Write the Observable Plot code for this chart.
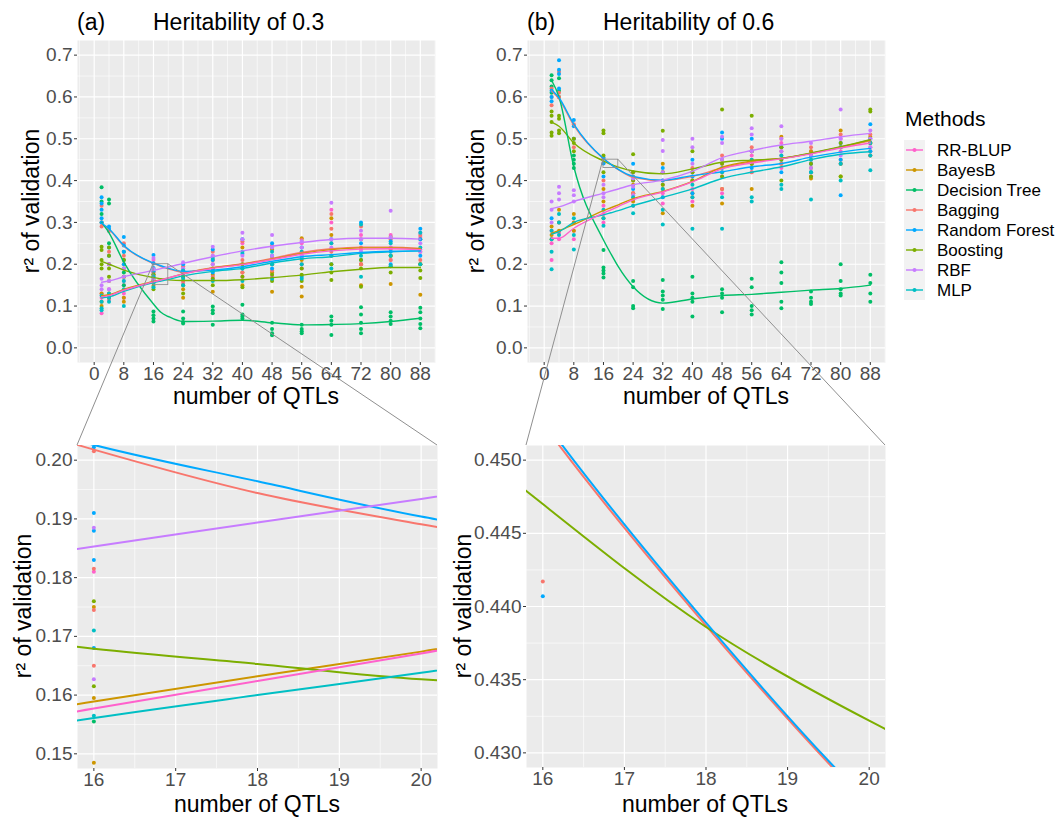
<!DOCTYPE html>
<html><head><meta charset="utf-8">
<script src="https://cdn.jsdelivr.net/npm/d3@7"></script>
<script src="https://cdn.jsdelivr.net/npm/@observablehq/plot@0.6"></script>
<style>
body{margin:0;background:#fff;}
#root{position:relative;width:1063px;height:817px;overflow:hidden;background:#fff;}
</style></head><body><div id="root"></div>
<script>
// ---------- categories & colours ----------
const methods = ["RR-BLUP","BayesB","Decision Tree","Bagging","Random Forest","Boosting","RBF","MLP"];
const colors  = ["#FF61CC","#CD9600","#00BE67","#F8766D","#00A9FF","#7CAE00","#C77CFF","#00BFC4"];
const drawOrder = ["Bagging","BayesB","Boosting","Decision Tree","MLP","Random Forest","RBF","RR-BLUP"];

// ---------- x positions ----------
const ptX = [2,4,8,16,24,32,40,48,56,64,72,80,88];
const smX = [2,4,8,16,18,20,24,32,40,48,56,64,72,80,88];

// ---------- tick labels ----------
const topXTicks = [0,8,16,24,32,40,48,56,64,72,80,88];
const topYTicks = [0,0.1,0.2,0.3,0.4,0.5,0.6,0.7];
const zoomXTicks = [16,17,18,19,20];
const zoomAYTicks = [0.15,0.16,0.17,0.18,0.19,0.20];
const zoomBYTicks = [0.430,0.435,0.440,0.445,0.450];

// ---------- zoom windows ----------
const zoomA_x = [16,20], zoomA_y = [0.15,0.20];
const zoomB_x = [16,20], zoomB_y = [0.43,0.45];

// ---------- panel (a) replicate points, per method, per ptX column ----------
const ptsA_RRBLUP = [[0.13,0.12,0.083],[0.14,0.12,0.115],[0.15,0.13,0.12],[0.21,0.181],[0.19,0.17,0.155],[0.22,0.19,0.165],[0.25,0.2,0.17],[0.24,0.2,0.17],[0.25,0.22,0.19],[0.33,0.3,0.25],[0.27,0.235,0.2],[0.27,0.24,0.21],[0.265,0.235,0.2]];
const ptsA_BayesB = [[0.13,0.11,0.1],[0.16,0.13,0.12],[0.17,0.12,0.11],[0.175,0.1595,0.1485],[0.18,0.14,0.12],[0.21,0.175,0.134],[0.24,0.18,0.15],[0.235,0.18,0.134],[0.262,0.21,0.146,0.123],[0.31,0.27,0.22],[0.26,0.2,0.15],[0.265,0.22,0.153],[0.26,0.2,0.127]];
const ptsA_DT = [[0.384,0.35,0.32,0.3],[0.355,0.345,0.28,0.25,0.2],[0.23,0.21,0.18,0.15],[0.1555,0.087,0.078,0.07,0.063],[0.087,0.07,0.062,0.058],[0.099,0.09,0.083,0.055],[0.103,0.08,0.075,0.07],[0.06,0.045,0.035,0.03],[0.055,0.045,0.04,0.035],[0.075,0.065,0.055,0.031],[0.097,0.08,0.06,0.045,0.035],[0.085,0.075,0.065,0.057],[0.096,0.085,0.07,0.057,0.047]];
const ptsA_Bagging = [[0.34,0.3,0.29],[0.28,0.23,0.2],[0.25,0.22,0.2],[0.2015,0.1815,0.1745,0.165],[0.195,0.175,0.16],[0.23,0.2,0.17],[0.255,0.21,0.18],[0.245,0.215,0.185],[0.258,0.23,0.2],[0.32,0.285,0.23],[0.29,0.24,0.2],[0.26,0.235,0.21],[0.27,0.23,0.21]];
const ptsA_RF = [[0.36,0.345,0.33,0.31,0.3],[0.29,0.285,0.24,0.22],[0.265,0.245,0.23,0.2],[0.222,0.2022,0.191,0.188,0.183,0.168],[0.2,0.185,0.17],[0.235,0.21,0.18],[0.26,0.225,0.19],[0.25,0.22,0.19],[0.24,0.215,0.17],[0.26,0.235,0.2],[0.3,0.25,0.21],[0.255,0.23,0.2],[0.285,0.26,0.22]];
const ptsA_Boosting = [[0.242,0.234,0.21,0.2,0.19],[0.24,0.22,0.19,0.17],[0.21,0.19,0.17],[0.176,0.1615,0.14],[0.17,0.15,0.13],[0.19,0.165,0.15],[0.2,0.17,0.145],[0.2,0.175,0.16],[0.19,0.175,0.16],[0.2,0.18,0.162],[0.21,0.19,0.146],[0.22,0.195,0.18],[0.2,0.185,0.167]];
const ptsA_RBF = [[0.165,0.15,0.14],[0.2,0.16,0.14],[0.19,0.17,0.16],[0.215,0.1885,0.1627],[0.205,0.19,0.18],[0.242,0.22,0.2],[0.275,0.26,0.22],[0.27,0.24,0.22],[0.255,0.24,0.22],[0.347,0.26,0.24],[0.28,0.26,0.23],[0.328,0.265,0.24],[0.275,0.25,0.23]];
const ptsA_MLP = [[0.125,0.11,0.095,0.09],[0.13,0.12,0.11],[0.16,0.14,0.1],[0.171,0.1565,0.145],[0.185,0.165,0.15],[0.215,0.185,0.16],[0.23,0.19,0.16],[0.23,0.2,0.165],[0.23,0.2,0.165],[0.25,0.22,0.19],[0.295,0.22,0.17],[0.25,0.22,0.195],[0.275,0.24,0.2]];

// ---------- panel (b) replicate points ----------
const ptsB_RRBLUP = [[0.28,0.25,0.21],[0.3,0.275,0.26],[0.3,0.28,0.26],[0.34,0.32,0.3],[0.37,0.355,0.34],[0.4,0.37,0.345],[0.41,0.38,0.35],[0.44,0.41,0.37],[0.46,0.44,0.42],[0.49,0.46,0.43],[0.47,0.44,0.41],[0.5,0.47,0.44],[0.5,0.48,0.46]];
const ptsB_BayesB = [[0.29,0.27,0.26],[0.33,0.3,0.28],[0.32,0.3,0.28],[0.38,0.35,0.31],[0.39,0.37,0.35],[0.44,0.38,0.322],[0.42,0.37,0.34],[0.45,0.38,0.345],[0.47,0.44,0.38],[0.505,0.48,0.44],[0.47,0.43,0.405],[0.52,0.48,0.41],[0.505,0.49,0.46]];
const ptsB_DT = [[0.652,0.64,0.625,0.61],[0.645,0.615,0.6],[0.46,0.45,0.44,0.43],[0.234,0.192,0.185,0.178,0.168],[0.16,0.145,0.1,0.095],[0.162,0.135,0.125,0.115,0.093],[0.17,0.13,0.12,0.11,0.075],[0.14,0.13,0.12,0.085],[0.165,0.145,0.1,0.09,0.08],[0.205,0.18,0.155,0.11,0.095],[0.135,0.12,0.11,0.105],[0.2,0.16,0.14,0.13,0.125],[0.175,0.155,0.13,0.11]];
const ptsB_Bagging = [[0.62,0.6,0.58],[0.66,0.61,0.6],[0.535,0.5,0.48],[0.453,0.4417,0.4],[0.42,0.4,0.37],[0.42,0.39,0.36],[0.43,0.4,0.36],[0.46,0.42,0.38],[0.48,0.45,0.42],[0.5,0.47,0.44],[0.48,0.45,0.42],[0.51,0.48,0.45],[0.51,0.49,0.47]];
const ptsB_RF = [[0.615,0.6,0.59,0.31],[0.688,0.665,0.655,0.62],[0.545,0.53,0.5],[0.455,0.4407,0.41],[0.44,0.41,0.38],[0.43,0.4,0.36],[0.45,0.41,0.37],[0.515,0.5,0.43],[0.5,0.47,0.43],[0.48,0.45,0.42],[0.46,0.44,0.42],[0.49,0.45,0.365],[0.535,0.5,0.47]];
const ptsB_Boosting = [[0.565,0.555,0.54,0.515,0.507],[0.555,0.548,0.52,0.513],[0.5,0.49,0.47],[0.52,0.513,0.46,0.42],[0.463,0.42,0.4],[0.519,0.42,0.39],[0.47,0.42,0.4],[0.57,0.44,0.41],[0.555,0.47,0.44],[0.48,0.45,0.4],[0.46,0.44,0.41],[0.49,0.44,0.41],[0.57,0.565,0.49]];
const ptsB_RBF = [[0.35,0.33,0.3],[0.385,0.37,0.355],[0.377,0.365,0.35],[0.39,0.37,0.36],[0.405,0.385,0.365],[0.497,0.471,0.42],[0.5,0.48,0.44],[0.505,0.49,0.45],[0.525,0.51,0.47],[0.53,0.5,0.47],[0.49,0.46,0.43],[0.57,0.5,0.46],[0.52,0.5,0.48]];
const ptsB_MLP = [[0.28,0.26,0.23,0.188],[0.32,0.3,0.27],[0.31,0.27,0.235],[0.33,0.31,0.292],[0.36,0.34,0.322],[0.38,0.33,0.295],[0.39,0.36,0.285],[0.42,0.36,0.285],[0.45,0.36,0.35],[0.46,0.39,0.38],[0.45,0.42,0.355],[0.48,0.44,0.4],[0.49,0.46,0.425]];

// ---------- smoothed curves (values at smX) ----------
const lnA_RRBLUP  = [0.122,0.125,0.138,0.1577,0.1624,0.1671,0.177,0.19,0.199,0.211,0.224,0.232,0.236,0.237,0.235];
const lnA_BayesB  = [0.125,0.127,0.14,0.1589,0.1632,0.1674,0.177,0.191,0.2,0.212,0.226,0.235,0.239,0.239,0.237];
const lnA_DT      = [0.30,0.275,0.205,0.105,0.085,0.075,0.063,0.064,0.066,0.06,0.055,0.056,0.058,0.063,0.071];
const lnA_Bagging = [0.295,0.283,0.243,0.2018,0.1944,0.1891,0.181,0.192,0.201,0.214,0.228,0.237,0.241,0.241,0.238];
const lnA_RF      = [0.298,0.285,0.245,0.2026,0.1964,0.1904,0.183,0.186,0.194,0.207,0.218,0.223,0.228,0.231,0.232];
const lnA_Boosting= [0.207,0.2,0.186,0.1679,0.1653,0.1627,0.161,0.161,0.163,0.168,0.174,0.182,0.188,0.192,0.192];
const lnA_RBF     = [0.157,0.16,0.17,0.1853,0.1894,0.1934,0.202,0.218,0.232,0.243,0.252,0.259,0.262,0.262,0.26];
const lnA_MLP     = [0.12,0.122,0.135,0.1561,0.16,0.1638,0.172,0.183,0.19,0.203,0.213,0.218,0.226,0.23,0.232];

const lnB_RRBLUP  = [0.262,0.262,0.286,0.322,0.33,0.338,0.354,0.373,0.397,0.428,0.442,0.452,0.464,0.478,0.49];
const lnB_BayesB  = [0.274,0.28,0.295,0.328,0.335,0.342,0.357,0.374,0.398,0.432,0.447,0.453,0.465,0.48,0.497];
const lnB_DT      = [0.64,0.6,0.433,0.258,0.225,0.194,0.146,0.107,0.117,0.125,0.128,0.133,0.138,0.142,0.15];
const lnB_Bagging = [0.615,0.595,0.532,0.4525,0.4387,0.4264,0.408,0.4,0.41,0.43,0.445,0.453,0.465,0.48,0.495];
const lnB_RF      = [0.618,0.598,0.535,0.4528,0.4389,0.4266,0.41,0.401,0.412,0.421,0.433,0.441,0.456,0.468,0.477];
const lnB_Boosting= [0.54,0.53,0.49,0.447,0.4386,0.4322,0.423,0.416,0.428,0.444,0.449,0.453,0.466,0.481,0.498];
const lnB_RBF     = [0.333,0.337,0.35,0.37,0.375,0.38,0.39,0.401,0.422,0.455,0.472,0.485,0.494,0.505,0.513];
const lnB_MLP     = [0.272,0.278,0.3,0.318,0.323,0.328,0.34,0.36,0.38,0.405,0.42,0.433,0.45,0.463,0.469];

// ---------- build tables ----------
const ptsA = {"RR-BLUP":ptsA_RRBLUP,"BayesB":ptsA_BayesB,"Decision Tree":ptsA_DT,"Bagging":ptsA_Bagging,"Random Forest":ptsA_RF,"Boosting":ptsA_Boosting,"RBF":ptsA_RBF,"MLP":ptsA_MLP};
const ptsB = {"RR-BLUP":ptsB_RRBLUP,"BayesB":ptsB_BayesB,"Decision Tree":ptsB_DT,"Bagging":ptsB_Bagging,"Random Forest":ptsB_RF,"Boosting":ptsB_Boosting,"RBF":ptsB_RBF,"MLP":ptsB_MLP};
const lnA = {"RR-BLUP":lnA_RRBLUP,"BayesB":lnA_BayesB,"Decision Tree":lnA_DT,"Bagging":lnA_Bagging,"Random Forest":lnA_RF,"Boosting":lnA_Boosting,"RBF":lnA_RBF,"MLP":lnA_MLP};
const lnB = {"RR-BLUP":lnB_RRBLUP,"BayesB":lnB_BayesB,"Decision Tree":lnB_DT,"Bagging":lnB_Bagging,"Random Forest":lnB_RF,"Boosting":lnB_Boosting,"RBF":lnB_RBF,"MLP":lnB_MLP};

function pointTable(src){
  const out=[];
  methods.forEach(m => src[m].forEach((vals,i) => vals.forEach(v => out.push({method:m, x:ptX[i], y:v}))));
  return out;
}
function lineTable(src){
  const out=[];
  drawOrder.forEach(m => src[m].forEach((v,i) => out.push({method:m, x:smX[i], y:v})));
  return out;
}
const dataPA = pointTable(ptsA), dataPB = pointTable(ptsB);
const dataLA = lineTable(lnA), dataLB = lineTable(lnB);

const FONT = '"Liberation Sans", Arial, Helvetica, sans-serif';
const root = document.getElementById("root");

function expand(d, f=0.05){ const s=d[1]-d[0]; return [d[0]-f*s, d[1]+f*s]; }
function mids(t){ const o=[]; for(let i=0;i<t.length-1;i++) o.push((t[i]+t[i+1])/2); return o; }

function panel(o){
  const xMinor = [o.xTicks[0]-(o.xTicks[1]-o.xTicks[0])/2, ...mids(o.xTicks), o.xTicks[o.xTicks.length-1]+(o.xTicks[1]-o.xTicks[0])/2].filter(v=>v>=o.xDomain[0]&&v<=o.xDomain[1]);
  const yMinor = [o.yTicks[0]-(o.yTicks[1]-o.yTicks[0])/2, ...mids(o.yTicks), o.yTicks[o.yTicks.length-1]+(o.yTicks[1]-o.yTicks[0])/2].filter(v=>v>=o.yDomain[0]&&v<=o.yDomain[1]);
  const marks = [
    Plot.frame({fill:"#EBEBEB", stroke:null}),
    Plot.ruleX(xMinor, {stroke:"#fff", strokeWidth:0.6}),
    Plot.ruleY(yMinor, {stroke:"#fff", strokeWidth:0.6}),
    Plot.ruleX(o.xTicks, {stroke:"#fff", strokeWidth:1.2}),
    Plot.ruleY(o.yTicks, {stroke:"#fff", strokeWidth:1.2}),
    Plot.dot(o.pts, {x:"x", y:"y", fill:"method", r:o.r, stroke:null, clip:true}),
    Plot.line(o.lines, {x:"x", y:"y", z:"method", stroke:"method", strokeWidth:o.lw, curve:"monotone-x", clip:true})
  ];
  if (o.rect) marks.push(Plot.rect([o.rect], {x1:"x1", x2:"x2", y1:"y1", y2:"y2", fill:"none", stroke:"#8f8f8f", strokeWidth:0.9}));
  marks.push(Plot.axisX(o.xTicks, {tickSize:3, tickPadding:1, stroke:"#333", fill:"#4d4d4d", fontSize:19, label:null}));
  marks.push(Plot.axisY(o.yTicks, {tickSize:3, tickPadding:2, stroke:"#333", fill:"#4d4d4d", fontSize:19, tickFormat:o.yFmt, label:null}));
  const p = Plot.plot({
    width:o.W, height:o.H, marginLeft:o.mL, marginRight:o.mR, marginTop:o.mT, marginBottom:o.mB,
    x:{domain:o.xDomain}, y:{domain:o.yDomain},
    color:{domain:methods, range:colors},
    style:{background:"transparent", fontFamily:FONT, fontSize:"19px", color:"#4d4d4d", overflow:"visible"},
    marks
  });
  p.style.position="absolute"; p.style.left=o.left+"px"; p.style.top=o.top+"px";
  root.appendChild(p);
  p._left=o.left; p._top=o.top;
  return p;
}

const topXDomain = [-4.5, 92.1];
const topYDomain = [-0.035, 0.735];
const fmt1 = d3.format(".1f"), fmt2 = d3.format(".2f"), fmt3 = d3.format(".3f");

const pA = panel({left:0, top:0, W:450, H:420, mL:77, mR:15, mT:40, mB:58,
  xDomain:topXDomain, yDomain:topYDomain, xTicks:topXTicks, yTicks:topYTicks, yFmt:fmt1,
  pts:dataPA, lines:dataLA, lw:1.4, r:2,
  rect:{x1:zoomA_x[0], x2:zoomA_x[1], y1:zoomA_y[0], y2:zoomA_y[1]}});
const pB = panel({left:450, top:0, W:450, H:420, mL:77, mR:15, mT:40, mB:58,
  xDomain:topXDomain, yDomain:topYDomain, xTicks:topXTicks, yTicks:topYTicks, yFmt:fmt1,
  pts:dataPB, lines:dataLB, lw:1.4, r:2,
  rect:{x1:zoomB_x[0], x2:zoomB_x[1], y1:zoomB_y[0], y2:zoomB_y[1]}});
const qA = panel({left:0, top:420, W:450, H:397, mL:77, mR:13, mT:25, mB:49,
  xDomain:expand(zoomA_x), yDomain:expand(zoomA_y), xTicks:zoomXTicks, yTicks:zoomAYTicks, yFmt:fmt2,
  pts:dataPA, lines:dataLA, lw:2, r:2});
const qB = panel({left:440, top:420, W:460, H:397, mL:86, mR:15, mT:25, mB:50,
  xDomain:expand(zoomB_x), yDomain:expand(zoomB_y), xTicks:zoomXTicks, yTicks:zoomBYTicks, yFmt:fmt3,
  pts:dataPB, lines:dataLB, lw:2, r:2});

// ---------- overlay: titles, axis titles, legend, connectors ----------
const ov = d3.select(root).append("svg")
  .attr("width",1063).attr("height",817)
  .style("position","absolute").style("left","0px").style("top","0px")
  .style("font-family",FONT);

function sc(p, name){
  const s = p.scale(name);
  const f = (s && typeof s.apply === "function") ? (v => s.apply(v)) : d3.scaleLinear(s.domain, s.range);
  return f;
}
function connectors(top, zx, zy, bot){
  const tx = sc(top,"x"), ty = sc(top,"y"), bx = sc(bot,"x"), by = sc(bot,"y");
  const bdx = bot.scale("x").domain, bdy = bot.scale("y").domain;
  const segs = [
    [top._left+tx(zx[0]), top._top+ty(zy[1]), bot._left+bx(bdx[0]), bot._top+by(bdy[1])],
    [top._left+tx(zx[1]), top._top+ty(zy[1]), bot._left+bx(bdx[1]), bot._top+by(bdy[1])]
  ];
  segs.forEach(s => ov.append("line").attr("x1",s[0]).attr("y1",s[1]).attr("x2",s[2]).attr("y2",s[3])
    .attr("stroke","#8f8f8f").attr("stroke-width",1));
}
connectors(pA, zoomA_x, zoomA_y, qA);
connectors(pB, zoomB_x, zoomB_y, qB);

function txt(x,y,s,size,anchor="start",rot=0){
  const t = ov.append("text").attr("x",x).attr("y",y).attr("font-size",size).attr("fill","#000")
    .attr("text-anchor",anchor).text(s);
  if (rot) t.attr("transform",`rotate(${rot},${x},${y})`);
  return t;
}
txt(77,30,"(a)",23); txt(153,30,"Heritability of 0.3",23);
txt(527,30,"(b)",23); txt(603,30,"Heritability of 0.6",23);
txt(256,404,"number of QTLs",23,"middle");
txt(706,404,"number of QTLs",23,"middle");
txt(257,812,"number of QTLs",23,"middle");
txt(705,812,"number of QTLs",23,"middle");
txt(39,201,"r² of validation",23,"middle",-90);
txt(484,201,"r² of validation",23,"middle",-90);
txt(31,606,"r² of validation",23,"middle",-90);
txt(471,606,"r² of validation",23,"middle",-90);

// legend
txt(905,126,"Methods",21);
methods.forEach((m,i)=>{
  const cy = 150 + i*20;
  ov.append("rect").attr("x",904).attr("y",cy-10).attr("width",21).attr("height",20).attr("fill","#F2F2F2");
  ov.append("line").attr("x1",906).attr("x2",923).attr("y1",cy).attr("y2",cy).attr("stroke",colors[i]).attr("stroke-width",1.4);
  ov.append("circle").attr("cx",914.5).attr("cy",cy).attr("r",2).attr("fill",colors[i]);
  ov.append("text").attr("x",937).attr("y",cy+6).attr("font-size",17).attr("fill","#000").text(m);
});
</script></body></html>
